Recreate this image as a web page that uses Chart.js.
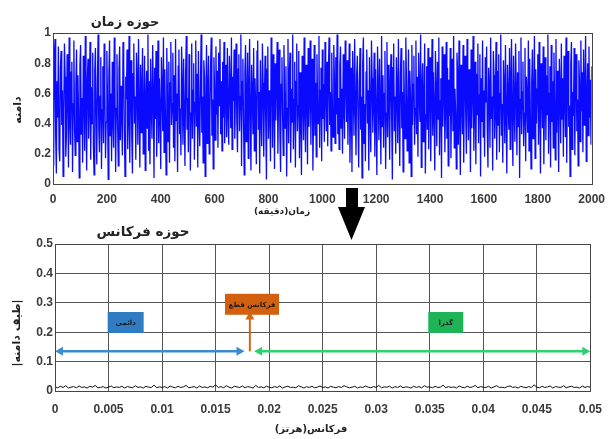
<!DOCTYPE html>
<html><head><meta charset="utf-8">
<script src="https://cdn.jsdelivr.net/npm/chart.js@4"></script>
<style>
body{margin:0;background:#fff;width:613px;height:439px;overflow:hidden;position:relative;font-family:"DejaVu Sans",sans-serif}
canvas{position:absolute;left:0}
#c1{top:0}
#c2{top:215px}
.lbl{position:absolute;direction:rtl;font-weight:bold;color:#222;white-space:nowrap;transform:translate(-50%,-50%)}
.rot{transform:translate(-50%,-50%) rotate(-90deg)}
svg{position:absolute;left:0;top:0}
</style></head><body>
<canvas id="c1" width="613" height="215" style="width:613px;height:215px"></canvas>
<canvas id="c2" width="613" height="224" style="width:613px;height:224px"></canvas>
<div class="lbl" style="left:125px;top:21px;font-size:13px">حوزه زمان</div>
<div class="lbl" style="left:143px;top:231px;font-size:13.5px">حوزه فرکانس</div>
<div class="lbl rot" style="left:17px;top:110px;font-size:11px">دامنه</div>
<div class="lbl rot" style="left:16px;top:333px;font-size:11px">|طیف دامنه|</div>
<div class="lbl" style="left:282px;top:211px;font-size:9px">زمان(دقیقه)</div>
<div class="lbl" style="left:311px;top:428px;font-size:10px">فرکانس(هرتز)</div>
<svg width="613" height="439"><polygon points="346,188 358,188 358,207 365,207 351.5,240 338,207 346,207" fill="#000"/></svg>
<script>
// ---- data ----
const timeStep = 2.5; // minutes between samples
const timeValues = [
0.55,0.12,0.83,0.96,0.31,0.07,0.68,0.44,0.91,0.23,0.15,0.77,0.88,0.39,0.62,0.05,0.49,0.93,0.71,0.18,
0.34,0.86,0.59,0.11,0.97,0.42,0.26,0.74,0.81,0.08,0.53,0.95,0.37,0.19,0.66,0.89,0.28,0.72,0.46,0.04,
0.79,0.92,0.33,0.57,0.14,0.85,0.61,0.22,0.98,0.47,0.09,0.70,0.83,0.30,0.52,0.94,0.16,0.64,0.40,0.87,
0.25,0.06,0.75,0.90,0.45,0.13,0.68,0.99,0.36,0.21,0.58,0.84,0.10,0.49,0.78,0.27,0.93,0.63,0.17,0.41,
0.88,0.54,0.03,0.72,0.95,0.32,0.60,0.15,0.81,0.43,0.24,0.97,0.67,0.08,0.50,0.86,0.38,0.12,0.76,0.91,
0.29,0.65,0.47,0.19,0.94,0.80,0.35,0.05,0.71,0.56,0.89,0.23,0.44,0.98,0.14,0.62,0.82,0.31,0.07,0.73,
0.93,0.40,0.58,0.16,0.87,0.69,0.26,0.96,0.51,0.11,0.79,0.34,0.64,0.90,0.20,0.46,0.85,0.09,0.57,0.75,
0.37,0.99,0.22,0.68,0.13,0.83,0.52,0.30,0.92,0.61,0.04,0.77,0.43,0.88,0.18,0.55,0.95,0.27,0.70,0.48,
0.10,0.84,0.63,0.35,0.97,0.21,0.76,0.45,0.06,0.90,0.59,0.28,0.81,0.14,0.67,0.94,0.39,0.53,0.87,0.24,
0.72,0.15,0.96,0.42,0.60,0.08,0.78,0.89,0.33,0.50,0.19,0.91,0.65,0.26,0.83,0.44,0.12,0.74,0.98,0.36,
0.57,0.21,0.86,0.69,0.09,0.47,0.93,0.30,0.62,0.80,0.16,0.54,0.95,0.38,0.73,0.11,0.88,0.43,0.25,0.66,
0.99,0.34,0.58,0.14,0.82,0.71,0.05,0.49,0.92,0.27,0.64,0.85,0.20,0.41,0.77,0.97,0.32,0.56,0.10,0.84,
0.63,0.29,0.91,0.46,0.75,0.24,0.87,0.52,0.96,0.33,0.68,0.22,0.81,0.44,0.94,0.27,0.59,0.79,0.31,0.90,
0.48,0.26,0.85,0.65,0.37,0.97,0.23,0.71,0.55,0.89,0.30,0.62,0.93,0.41,0.21,0.76,0.86,0.35,0.58,0.99,
0.12,0.68,0.83,0.40,0.06,0.74,0.92,0.28,0.53,0.87,0.17,0.64,0.96,0.45,0.09,0.79,0.60,0.33,0.90,0.22,
0.70,0.51,0.13,0.88,0.95,0.36,0.61,0.07,0.82,0.44,0.25,0.93,0.67,0.18,0.57,0.85,0.39,0.03,0.76,0.91,
0.30,0.62,0.48,0.15,0.97,0.73,0.24,0.86,0.54,0.10,0.80,0.42,0.69,0.94,0.20,0.58,0.89,0.33,0.08,0.66,
0.84,0.45,0.19,0.92,0.61,0.37,0.78,0.05,0.50,0.96,0.27,0.72,0.87,0.14,0.63,0.41,0.99,0.23,0.56,0.81,
0.11,0.68,0.93,0.35,0.52,0.88,0.17,0.74,0.43,0.06,0.85,0.60,0.29,0.97,0.48,0.21,0.79,0.65,0.13,0.90,
0.38,0.57,0.95,0.26,0.71,0.83,0.09,0.46,0.92,0.32,0.67,0.18,0.86,0.54,0.40,0.98,0.24,0.62,0.77,0.15,
0.89,0.43,0.66,0.28,0.94,0.58,0.35,0.81,0.25,0.73,0.97,0.39,0.61,0.22,0.87,0.50,0.31,0.92,0.69,0.27,
0.84,0.46,0.99,0.33,0.57,0.23,0.78,0.91,0.37,0.63,0.20,0.86,0.52,0.30,0.95,0.70,0.41,0.82,0.26,0.60,
0.93,0.14,0.49,0.77,0.08,0.88,0.64,0.32,0.96,0.55,0.19,0.72,0.85,0.43,0.11,0.67,0.90,0.36,0.58,0.04,
0.80,0.97,0.27,0.53,0.15,0.74,0.89,0.40,0.62,0.09,0.84,0.47,0.21,0.95,0.70,0.34,0.56,0.87,0.18,0.76,
0.44,0.06,0.91,0.65,0.29,0.83,0.51,0.13,0.98,0.38,0.72,0.24,0.60,0.88,0.10,0.47,0.94,0.31,0.79,0.55,
0.16,0.69,0.86,0.42,0.03,0.77,0.93,0.35,0.58,0.20,0.84,0.64,0.27,0.96,0.49,0.12,0.73,0.90,0.37,0.61,
0.08,0.82,0.53,0.30,0.97,0.68,0.22,0.45,0.89,0.14,0.75,0.57,0.05,0.92,0.39,0.66,0.85,0.26,0.50,0.95,
0.33,0.71,0.18,0.87,0.60,0.41,0.99,0.11,0.63,0.80,0.28,0.54,0.93,0.07,0.46,0.78,0.36,0.90,0.23,0.67,
0.84,0.15,0.58,0.96,0.32,0.74,0.48,0.09,0.88,0.62,0.25,0.81,0.43,0.97,0.19,0.55,0.70,0.04,0.91,0.38,
0.65,0.86,0.21,0.52,0.94,0.30,0.77,0.12,0.69,0.45,0.90,0.17,0.59,0.83,0.35,0.98,0.24,0.63,0.47,0.10,
0.87,0.72,0.26,0.95,0.40,0.06,0.79,0.57,0.33,0.92,0.14,0.68,0.85,0.44,0.20,0.96,0.61,0.29,0.76,0.53,
0.08,0.89,0.37,0.64,0.98,0.22,0.50,0.81,0.13,0.73,0.46,0.93,0.27,0.59,0.86,0.05,0.70,0.41,0.95,0.31,
0.62,0.18,0.84,0.54,0.91,0.35,0.11,0.77,0.67,0.24,0.97,0.43,0.58,0.09,0.88,0.72,0.30,0.49,0.94,0.16,
0.75,0.39,0.86,0.21,0.60,0.99,0.32,0.53,0.14,0.82,0.66,0.27,0.92,0.45,0.07,0.79,0.57,0.36,0.90,0.23,
0.69,0.96,0.42,0.12,0.85,0.51,0.28,0.93,0.64,0.19,0.74,0.38,0.88,0.04,0.56,0.97,0.33,0.61,0.81,0.25,
0.47,0.90,0.15,0.71,0.58,0.34,0.95,0.22,0.83,0.44,0.10,0.67,0.89,0.30,0.53,0.98,0.17,0.76,0.40,0.63,
0.86,0.26,0.94,0.49,0.07,0.80,0.65,0.37,0.91,0.13,0.57,0.84,0.29,0.72,0.46,0.99,0.20,0.60,0.78,0.11,
0.92,0.41,0.68,0.24,0.87,0.55,0.16,0.96,0.34,0.75,0.50,0.08,0.83,0.62,0.27,0.93,0.43,0.70,0.18,0.85,
0.59,0.31,0.97,0.14,0.66,0.88,0.38,0.52,0.05,0.79,0.94,0.23,0.61,0.45,0.90,0.19,0.73,0.86,0.35,0.56,
0.12,0.82,0.67,0.28,0.95,0.48,0.74,0.21,0.89,0.39,0.63,0.98,0.15,0.57,0.80,0.32,0.91,0.44,0.69,0.26,
0.78];

const freqStep = 0.00025; // Hz between spectrum bins
const spectrumValues = [
.014,.011,.016,.012,.018,.010,.013,.015,.011,.017,.012,.014,.010,.016,.013,.019,.011,.012,.015,.010,
.013,.017,.011,.014,.012,.016,.010,.015,.013,.011,.018,.012,.014,.010,.016,.013,.012,.020,.011,.014,
.012,.015,.010,.017,.013,.011,.016,.012,.014,.019,.011,.013,.015,.010,.017,.012,.014,.011,.016,.013,
.021,.012,.015,.011,.018,.013,.010,.016,.014,.012,.017,.011,.015,.013,.010,.019,.012,.014,.011,.016,
.013,.011,.015,.012,.017,.010,.014,.016,.012,.013,.011,.018,.014,.010,.015,.012,.016,.011,.013,.017,
.012,.014,.010,.016,.013,.011,.015,.012,.018,.014,.011,.013,.016,.010,.014,.012,.017,.013,.011,.015,
.012,.019,.011,.014,.013,.016,.010,.015,.012,.017,.011,.014,.013,.010,.016,.012,.015,.011,.018,.013,
.014,.011,.016,.012,.013,.020,.011,.015,.012,.014,.010,.017,.013,.011,.016,.012,.014,.019,.011,.015,
.013,.012,.016,.010,.014,.018,.012,.013,.011,.015,.017,.012,.014,.010,.016,.013,.011,.015,.012,.021,
.013,.011,.016,.012,.014,.017,.010,.015,.013,.012,.018,.011,.014,.016,.012,.013,.010,.017,.012,.015,
.013];

const timeTicks = {min:0, max:2000, step:200};
const ampTicks = {min:0, max:1, step:0.2};
const freqTicks = {min:0, max:0.05, step:0.005};
const specTicks = {min:0, max:0.5, step:0.1};

// annotation values (data units)
const bandLevel = 0.135;
const cutoffFreq = 0.0182;
const lowBandEnd = 0.0177;
const highBandStart = 0.0186;
const labels = [
  {text:'دائمی', x:0.0066, y:0.233, w:36, h:21, fill:'#2f7cc2'},
  {text:'فرکانس قطع', x:0.0184, y:0.295, w:54, h:21, fill:'#d2600f'},
  {text:'گذرا', x:0.0365, y:0.233, w:35, h:21, fill:'#1db356'}
];
const cutoffArrowTop = 0.27;

// ---- helpers ----
Chart.defaults.font.family = '"Liberation Sans", Arial, sans-serif';
Chart.defaults.font.weight = 'bold';
Chart.defaults.font.size = 12;
Chart.defaults.color = '#3a3a3a';

const framePlugin = {
  id:'frame',
  afterDraw(chart){
    const a = chart.chartArea, c = chart.ctx;
    c.save(); c.strokeStyle='#444'; c.lineWidth=1;
    c.strokeRect(Math.round(a.left)+0.5, Math.round(a.top)+0.5, Math.round(a.right-a.left), Math.round(a.bottom-a.top));
    c.restore();
  }
};
const fmt = v => String(Number(v.toFixed(3)));

function arrowHead(c, x, y, dir, color){
  const L=8, W=4.5;
  c.fillStyle=color; c.beginPath();
  if(dir==='left'){ c.moveTo(x,y); c.lineTo(x+L,y-W); c.lineTo(x+L,y+W); }
  else if(dir==='right'){ c.moveTo(x,y); c.lineTo(x-L,y-W); c.lineTo(x-L,y+W); }
  else { c.moveTo(x,y); c.lineTo(x-W,y+L); c.lineTo(x+W,y+L); }
  c.closePath(); c.fill();
}

const annotPlugin = {
  id:'annot',
  afterDatasetsDraw(chart){
    const c = chart.ctx, xs = chart.scales.x, ys = chart.scales.y;
    const yb = ys.getPixelForValue(bandLevel);
    c.save();
    const blue='#3b8bd0', green='#2fd06e', orange='#d2671c';
    c.lineWidth=2.5; c.strokeStyle=blue;
    const x0=xs.getPixelForValue(0), x1=xs.getPixelForValue(lowBandEnd);
    c.beginPath(); c.moveTo(x0+4,yb); c.lineTo(x1-4,yb); c.stroke();
    arrowHead(c,x0,yb,'left',blue); arrowHead(c,x1,yb,'right',blue);
    c.strokeStyle=green;
    const x2=xs.getPixelForValue(highBandStart), x3=xs.getPixelForValue(freqTicks.max);
    c.beginPath(); c.moveTo(x2+4,yb); c.lineTo(x3-4,yb); c.stroke();
    arrowHead(c,x2,yb,'left',green); arrowHead(c,x3,yb,'right',green);
    c.strokeStyle=orange; c.lineWidth=2;
    const xc=xs.getPixelForValue(cutoffFreq), yt=ys.getPixelForValue(cutoffArrowTop);
    c.beginPath(); c.moveTo(xc,yb); c.lineTo(xc,yt+6); c.stroke();
    arrowHead(c,xc,yt,'up',orange);
    labels.forEach(l=>{
      const cx=xs.getPixelForValue(l.x), cy=ys.getPixelForValue(l.y);
      c.fillStyle=l.fill; c.fillRect(cx-l.w/2, cy-l.h/2, l.w, l.h);
      c.fillStyle='#1a1a1a'; c.font='bold 7px "DejaVu Sans"';
      c.textAlign='center'; c.textBaseline='middle'; c.direction='rtl';
      c.fillText(l.text, cx, cy+1);
    });
    c.restore();
  }
};

// ---- top chart: time domain ----
new Chart(document.getElementById('c1'), {
  type:'line',
  data:{datasets:[{data: timeValues.map((v,i)=>({x:i*timeStep, y:v})), borderColor:'#0a0aff', borderWidth:1.3, pointRadius:0, tension:0}]},
  options:{
    responsive:false, animation:false,
    layout:{padding:{top:33, right:17, left:0, bottom:0}},
    plugins:{legend:{display:false}, tooltip:{enabled:false}},
    scales:{
      x:{type:'linear', min:timeTicks.min, max:timeTicks.max,
         ticks:{stepSize:timeTicks.step, padding:8, maxRotation:0, autoSkip:false, callback:fmt},
         grid:{display:false, drawTicks:false}, border:{display:false},
         afterFit(s){ s.height=31; }},
      y:{type:'linear', min:ampTicks.min, max:ampTicks.max,
         ticks:{stepSize:ampTicks.step, padding:2, callback:fmt},
         grid:{display:false, drawTicks:false}, border:{display:false},
         afterFit(s){ s.width=53; }}
    }
  },
  plugins:[framePlugin]
});

// ---- bottom chart: frequency domain ----
new Chart(document.getElementById('c2'), {
  type:'line',
  data:{datasets:[{data: spectrumValues.map((v,i)=>({x:i*freqStep, y:v})), borderColor:'#111', borderWidth:1, pointRadius:0, tension:0}]},
  options:{
    responsive:false, animation:false,
    layout:{padding:{top:29, right:19, left:0, bottom:0}},
    plugins:{legend:{display:false}, tooltip:{enabled:false}},
    scales:{
      x:{type:'linear', min:freqTicks.min, max:freqTicks.max,
         ticks:{stepSize:freqTicks.step, padding:11, maxRotation:0, autoSkip:false, callback:fmt},
         grid:{color:'#555', drawTicks:false}, border:{display:false},
         afterFit(s){ s.height=48; }},
      y:{type:'linear', min:specTicks.min, max:specTicks.max,
         ticks:{stepSize:specTicks.step, padding:2, callback:fmt},
         grid:{color:'#555', drawTicks:false}, border:{display:false},
         afterFit(s){ s.width=55; }}
    }
  },
  plugins:[framePlugin, annotPlugin]
});
</script>
</body></html>
